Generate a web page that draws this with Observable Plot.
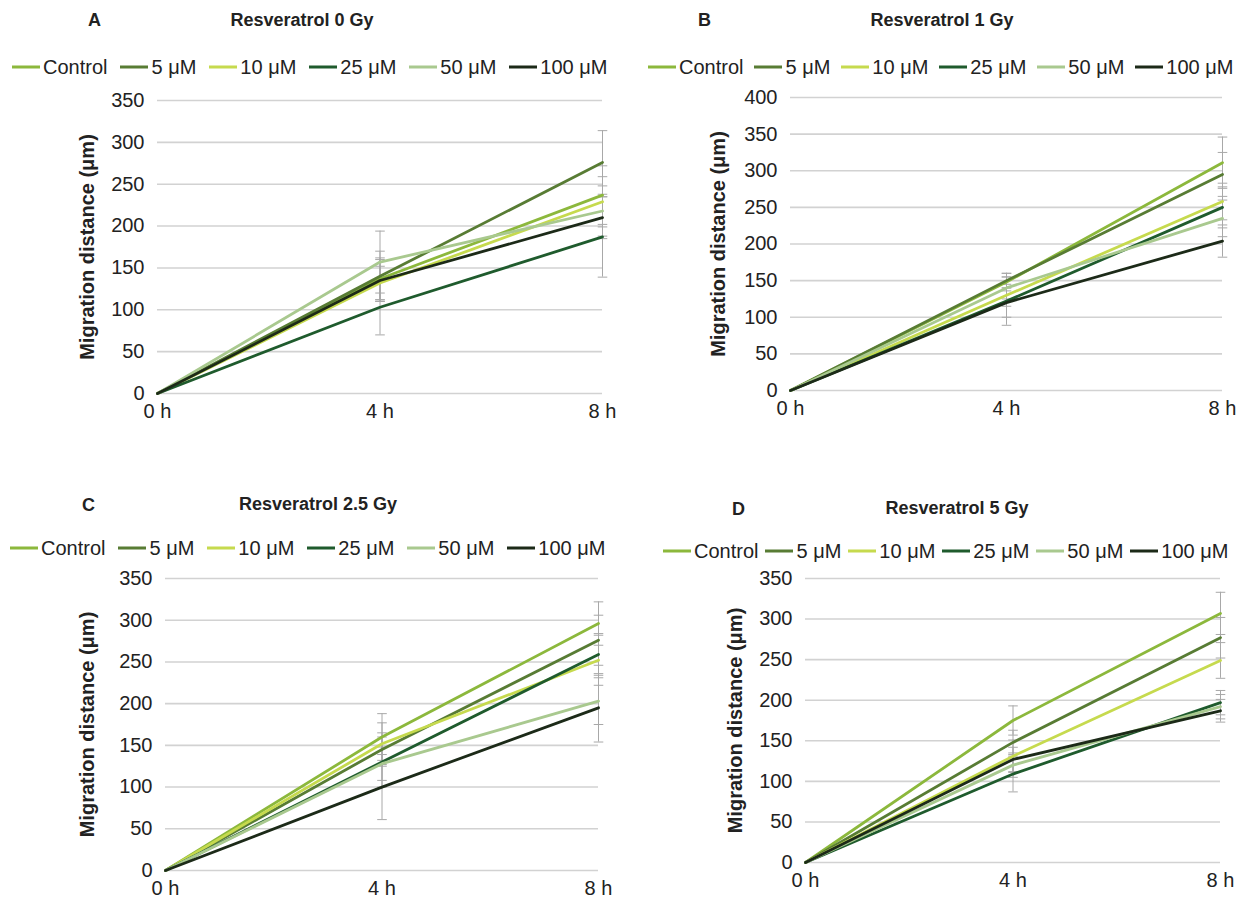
<!DOCTYPE html>
<html>
<head>
<meta charset="utf-8">
<script src="https://cdn.jsdelivr.net/npm/d3@7"></script>
<script src="https://cdn.jsdelivr.net/npm/@observablehq/plot@0.6"></script>
<style>
  html, body { margin: 0; padding: 0; background: #fff; }
  body { width: 1242px; height: 907px; position: relative; overflow: hidden;
         font-family: "Liberation Sans", Arial, Helvetica, sans-serif; color: #222; }
  .abs { position: absolute; }
  .letter, .title { font-weight: bold; font-size: 18px; transform: translateY(-50%); white-space: nowrap; }
  .title { transform: translate(-50%, -50%); }
  .legend { display: flex; align-items: center; font-size: 20px; transform: translateY(-50%); white-space: nowrap; }
  .item { display: flex; align-items: center; }
  .sw { width: 28px; height: 0; border-top: 3px solid; margin-right: 3px; }
</style>
</head>
<body>
<script>
// ---------- data ----------
const series = ["Control", "5 μM", "10 μM", "25 μM", "50 μM", "100 μM"];
const hours = [0, 4, 8];
const hourLabels = ["0 h", "4 h", "8 h"];
const colors = ["#8cb83c", "#587c34", "#c6da4e", "#1f5b2d", "#a9c98f", "#1c2a18"];

// panel A: Resveratrol 0 Gy (mean at 0 h, 4 h, 8 h per series)
const meanA = [[0, 137, 237], [0, 140, 276], [0, 132, 229], [0, 103, 187], [0, 157, 218], [0, 135, 210]];
const errA  = [[0, 25, 35], [0, 30, 38], [0, 20, 30], [0, 33, 48], [0, 37, 30], [0, 25, 25]];
// panel B: Resveratrol 1 Gy
const meanB = [[0, 148, 311], [0, 150, 295], [0, 130, 258], [0, 122, 250], [0, 140, 235], [0, 120, 204]];
const errB  = [[0, 12, 35], [0, 10, 30], [0, 15, 25], [0, 33, 28], [0, 15, 25], [0, 20, 22]];
// panel C: Resveratrol 2.5 Gy
const meanC = [[0, 160, 296], [0, 145, 276], [0, 152, 252], [0, 130, 259], [0, 128, 203], [0, 100, 195]];
const errC  = [[0, 28, 26], [0, 20, 30], [0, 25, 30], [0, 30, 25], [0, 20, 28], [0, 39, 41]];
// panel D: Resveratrol 5 Gy
const meanD = [[0, 175, 307], [0, 148, 277], [0, 131, 249], [0, 109, 197], [0, 120, 192], [0, 127, 187]];
const errD  = [[0, 18, 26], [0, 15, 25], [0, 20, 22], [0, 22, 15], [0, 15, 15], [0, 15, 14]];

const yLabel = "Migration distance (μm)";

// ---------- layout ----------
const panels = [
  { letter: "A", title: "Resveratrol 0 Gy",   mean: meanA, err: errA, ymax: 350,
    letterPos: [88, 20], titlePos: [302, 20], legendPos: [12, 67], legendGap: 13,
    svg: { left: 0, top: 90, width: 625, height: 333, mL: 157, mR: 23, mT: 10, mB: 30, labelDx: -70 } },
  { letter: "B", title: "Resveratrol 1 Gy",   mean: meanB, err: errB, ymax: 400,
    letterPos: [698, 20], titlePos: [942, 20], legendPos: [648, 67], legendGap: 11,
    svg: { left: 635, top: 87, width: 607, height: 333, mL: 155, mR: 20, mT: 10, mB: 30, labelDx: -72 } },
  { letter: "C", title: "Resveratrol 2.5 Gy", mean: meanC, err: errC, ymax: 350,
    letterPos: [82, 505], titlePos: [318, 504], legendPos: [10, 548], legendGap: 13,
    svg: { left: 0, top: 568, width: 620, height: 332, mL: 165, mR: 22, mT: 10, mB: 30, labelDx: -78 } },
  { letter: "D", title: "Resveratrol 5 Gy",   mean: meanD, err: errD, ymax: 350,
    letterPos: [732, 509], titlePos: [957, 508], legendPos: [663, 551], legendGap: 7,
    svg: { left: 635, top: 568, width: 607, height: 324, mL: 170, mR: 22, mT: 10, mB: 30, labelDx: -70 } }
];

// horizontal cap symbol for error bars
const capSymbol = {
  draw(context, size) {
    const w = Math.sqrt(size) * 0.9;
    context.moveTo(-w, 0);
    context.lineTo(w, 0);
  }
};

function addDiv(cls, text, x, y) {
  const d = document.createElement("div");
  d.className = "abs " + cls;
  d.textContent = text;
  d.style.left = x + "px";
  d.style.top = y + "px";
  document.body.appendChild(d);
  return d;
}

for (const p of panels) {
  addDiv("letter", p.letter, p.letterPos[0], p.letterPos[1]);
  addDiv("title", p.title, p.titlePos[0], p.titlePos[1]);

  const lg = document.createElement("div");
  lg.className = "abs legend";
  lg.style.left = p.legendPos[0] + "px";
  lg.style.top = p.legendPos[1] + "px";
  lg.style.gap = p.legendGap + "px";
  series.forEach((s, i) => {
    const it = document.createElement("div");
    it.className = "item";
    const sw = document.createElement("span");
    sw.className = "sw";
    sw.style.borderTopColor = colors[i];
    const tx = document.createElement("span");
    tx.textContent = s;
    it.appendChild(sw); it.appendChild(tx);
    lg.appendChild(it);
  });
  document.body.appendChild(lg);

  const lineData = [];
  const errData = [];
  const capData = [];
  series.forEach((s, i) => {
    hours.forEach((h, j) => {
      const m = p.mean[i][j];
      lineData.push({ s, t: h, v: m });
      const e = p.err[i][j];
      if (e > 0) {
        errData.push({ s, t: h, lo: m - e, hi: m + e });
        capData.push({ t: h, v: m - e });
        capData.push({ t: h, v: m + e });
      }
    });
  });

  const yTicks = d3.range(0, p.ymax + 1, 50);
  const c = p.svg;
  const chart = Plot.plot({
    width: c.width, height: c.height,
    marginLeft: c.mL, marginRight: c.mR, marginTop: c.mT, marginBottom: c.mB,
    style: { fontFamily: "'Liberation Sans', Arial, Helvetica, sans-serif", fontSize: "20px", color: "#222", background: "transparent", overflow: "visible" },
    x: { domain: [0, 8], ticks: hours, tickFormat: d => hourLabels[hours.indexOf(d)], tickSize: 0, tickPadding: 10, label: null },
    y: { domain: [0, p.ymax], ticks: yTicks, tickSize: 0, tickPadding: 13, label: null },
    color: { domain: series, range: colors },
    marks: [
      Plot.ruleY(yTicks, { stroke: "#d2d2d2", strokeWidth: 1.6 }),
      Plot.ruleX(errData, { x: "t", y1: "lo", y2: "hi", stroke: "#a8a8a8", strokeWidth: 1 }),
      Plot.dot(capData, { x: "t", y: "v", symbol: capSymbol, r: 3, stroke: "#a8a8a8", strokeWidth: 1, fill: "none" }),
      Plot.line(lineData, { x: "t", y: "v", z: "s", stroke: "s", strokeWidth: 2.8 }),
      Plot.text([yLabel], { frameAnchor: "left", textAnchor: "middle", rotate: -90, dx: c.labelDx, fontWeight: "bold", fontSize: 20, fill: "#222" })
    ]
  });
  chart.style.position = "absolute";
  chart.style.left = c.left + "px";
  chart.style.top = c.top + "px";
  document.body.appendChild(chart);
}
</script>
</body>
</html>
